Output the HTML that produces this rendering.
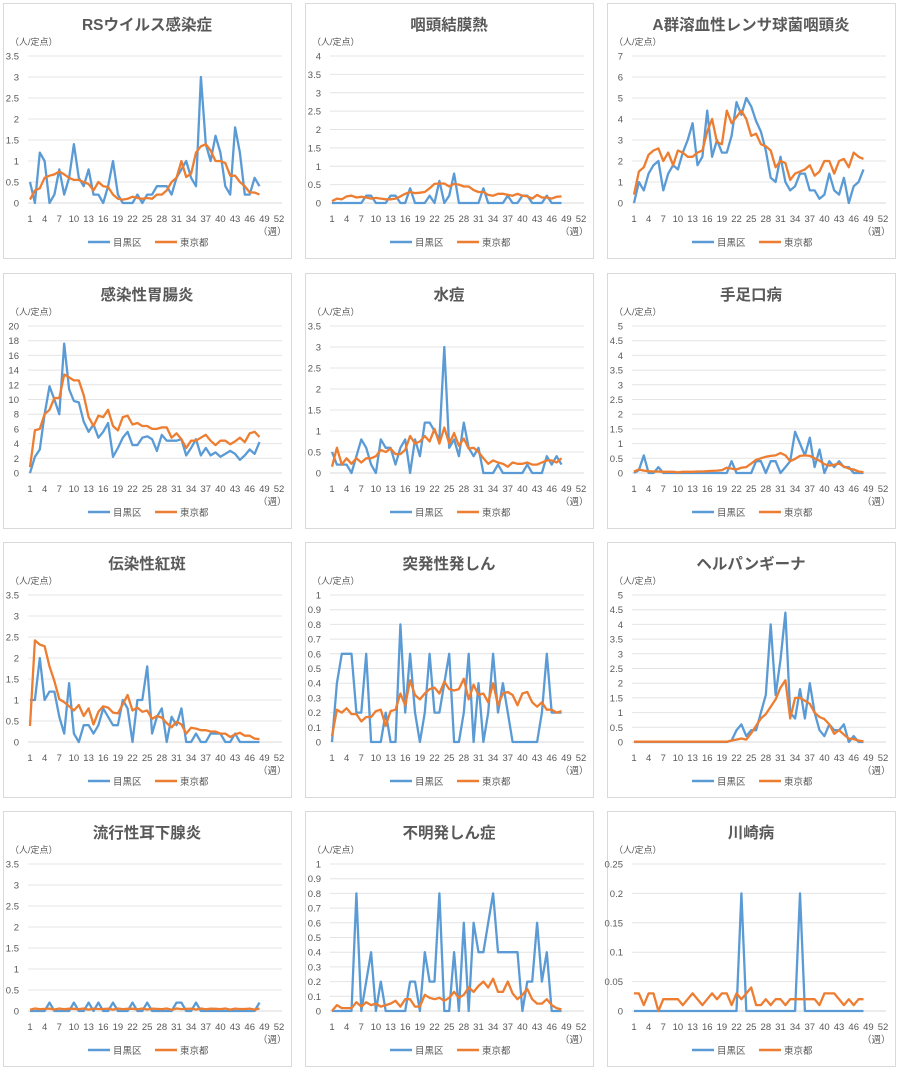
<!DOCTYPE html>
<html><head><meta charset="utf-8"><style>
html,body{margin:0;padding:0;background:#fff;}
svg{display:block;}
text{font-family:"Liberation Sans","Noto Sans CJK JP",sans-serif;}
</style></head><body>
<svg id="s" width="900" height="1070" xmlns="http://www.w3.org/2000/svg"></svg>
<script>
const Z=n=>Array(n).fill(0);
function sp(arr,map){const a=arr.slice();for(const k in map)a[k-1]=map[k];return a;}
const charts=[
{t:"RSウイルス感染症",max:3.5,step:0.5,
b:[0.5,0,1.2,1,0,0.2,0.8,0.2,0.6,1.4,0.6,0.4,0.8,0.2,0.2,0,0.4,1,0.2,0,0,0,0.2,0,0.2,0.2,0.4,0.4,0.4,0.2,0.6,0.8,1,0.6,0.4,3,1.4,1,1.6,1.2,0.4,0.2,1.8,1.2,0.2,0.2,0.6,0.4],
o:[0.08,0.3,0.35,0.6,0.65,0.68,0.75,0.68,0.6,0.55,0.55,0.5,0.45,0.3,0.5,0.4,0.38,0.2,0.1,0.08,0.1,0.15,0.12,0.1,0.12,0.1,0.2,0.2,0.3,0.5,0.6,1,0.62,0.7,1.2,1.35,1.4,1.25,1,1,0.95,0.65,0.65,0.5,0.4,0.25,0.25,0.2]},
{t:"咽頭結膜熱",max:4,step:0.5,
b:sp(Z(48),{8:0.2,9:0.2,13:0.2,14:0.2,17:0.4,21:0.2,23:0.6,25:0.2,26:0.8,32:0.4,37:0.2,40:0.2,41:0.2,45:0.2}),
o:[0.05,0.12,0.1,0.18,0.2,0.15,0.17,0.15,0.12,0.14,0.12,0.1,0.1,0.12,0.18,0.25,0.3,0.27,0.28,0.3,0.4,0.52,0.53,0.53,0.45,0.52,0.5,0.45,0.45,0.35,0.3,0.3,0.22,0.2,0.25,0.25,0.22,0.2,0.25,0.2,0.18,0.12,0.22,0.15,0.15,0.12,0.17,0.18]},
{t:"A群溶血性レンサ球菌咽頭炎",max:7,step:1,
b:[0,1,0.6,1.4,1.8,2,0.6,1.4,1.8,1.6,2.4,3,3.8,1.8,2.2,4.4,2.2,3,2.4,2.4,3.2,4.8,4.2,5,4.6,3.9,3.4,2.5,1.2,1,2.2,1,0.6,0.8,1.4,1.4,0.6,0.6,0.2,0.4,1.4,0.6,0.4,1.2,0,0.8,1,1.6],
o:[0.4,1.5,1.7,2.3,2.5,2.6,2,2.4,1.8,2.5,2.4,2.2,2.2,2.4,2.5,3.4,4,2.9,2.8,4.4,3.8,4.1,4.4,4,3.2,3.3,2.8,2.7,2.5,1.7,2,1.9,1.1,1.4,1.5,1.6,1.8,1.3,1.5,2,2,1.4,2,2.1,1.7,2.4,2.2,2.1]},
{t:"感染性胃腸炎",max:20,step:2,
b:[0,2.2,3.2,8,11.8,10,8,17.6,11.4,9.8,9.6,7,5.6,6.6,4.8,5.6,6.8,2.2,3.4,4.8,5.6,3.8,3.8,4.8,5,4.6,3,5.2,4.4,4.4,4.4,4.6,2.4,3.4,4.6,2.4,3.4,2.4,2.8,2.2,2.6,3,2.6,1.8,2.4,3.2,2.6,4.2],
o:[0.8,5.8,6,8,8.6,10.2,10.2,13.4,13,12.6,12.6,10.6,7.6,6.4,7.8,7.6,8.6,6.4,5.8,7.6,7.8,6.6,6.8,6.4,6.4,6,6,6.2,6.2,4.8,5.4,4.6,3.4,4.4,4.4,4.8,5.2,4.4,3.8,4.4,4.4,3.9,4.3,4.8,4.2,5.4,5.6,4.9]},
{t:"水痘",max:3.5,step:0.5,
b:[0.5,0.2,0.2,0.2,0,0.4,0.8,0.6,0.2,0,0.8,0.6,0.6,0.2,0.6,0.8,0,0.8,0.4,1.2,1.2,1,0.8,3,0.6,0.8,0.4,1.2,0.6,0.4,0.6,0,0,0,0.2,0,0,0,0,0,0.2,0,0,0,0.4,0.2,0.4,0.2],
o:[0.15,0.6,0.2,0.35,0.22,0.35,0.25,0.35,0.35,0.4,0.55,0.5,0.58,0.45,0.45,0.55,0.88,0.7,0.75,0.88,0.75,1.05,0.7,1.08,0.7,0.95,0.65,0.82,0.58,0.6,0.5,0.35,0.22,0.3,0.25,0.22,0.15,0.25,0.22,0.22,0.25,0.2,0.2,0.25,0.3,0.3,0.25,0.35]},
{t:"手足口病",max:5,step:0.5,
b:sp(Z(48),{2:0.1,3:0.6,6:0.2,21:0.4,26:0.4,27:0.4,29:0.4,30:0.4,32:0.2,33:0.4,34:1.4,35:1,36:0.6,37:1.2,38:0.2,39:0.8,41:0.4,42:0.2,43:0.4,44:0.2,45:0.2}),
o:[0.05,0.12,0.08,0.06,0.05,0.05,0.04,0.04,0.04,0.02,0.04,0.04,0.04,0.05,0.05,0.06,0.07,0.08,0.1,0.18,0.15,0.12,0.18,0.2,0.32,0.45,0.5,0.55,0.58,0.6,0.68,0.6,0.4,0.48,0.58,0.6,0.58,0.5,0.42,0.3,0.25,0.28,0.32,0.22,0.15,0.12,0.05,0.03]},
{t:"伝染性紅斑",max:3.5,step:0.5,
b:[1,1,2,1,1.2,1.2,0.6,0.2,1.4,0.2,0,0.4,0.4,0.2,0.4,0.8,0.6,0.4,0.4,1,0.8,0,1,1,1.8,0.2,0.6,0.8,0,0.6,0.4,0.8,0,0,0.2,0,0,0.2,0.2,0.2,0,0,0.2,0,0,0,0,0],
o:[0.38,2.42,2.32,2.28,1.8,1.45,1.02,0.95,0.85,0.75,0.88,0.62,0.8,0.42,0.72,0.85,0.82,0.7,0.68,0.9,1.12,0.75,0.82,0.72,0.75,0.55,0.62,0.58,0.45,0.35,0.48,0.42,0.2,0.34,0.32,0.28,0.28,0.25,0.25,0.2,0.2,0.12,0.18,0.22,0.15,0.15,0.08,0.07]},
{t:"突発性発しん",max:1,step:0.1,
b:[0,0.4,0.6,0.6,0.6,0.2,0.2,0.6,0,0,0,0.2,0,0,0.8,0.2,0.6,0.2,0,0.2,0.6,0.2,0.2,0.4,0.6,0,0,0.2,0.6,0,0.4,0,0.2,0.6,0.2,0.4,0.2,0,0,0,0,0,0,0.2,0.6,0.2,0.2,0.2],
o:[0.04,0.22,0.2,0.23,0.19,0.19,0.14,0.17,0.17,0.21,0.22,0.11,0.21,0.22,0.33,0.25,0.42,0.32,0.29,0.33,0.36,0.37,0.33,0.41,0.36,0.35,0.36,0.43,0.29,0.39,0.32,0.33,0.27,0.4,0.25,0.33,0.34,0.32,0.25,0.33,0.34,0.27,0.24,0.27,0.22,0.22,0.2,0.21]},
{t:"ヘルパンギーナ",max:5,step:0.5,
b:sp(Z(48),{21:0.05,22:0.4,23:0.6,24:0.2,25:0.4,26:0.4,27:1.0,28:1.6,29:4.0,30:1.6,31:2.8,32:4.4,33:1.0,34:0.8,35:1.8,36:0.8,37:2.0,38:1.0,39:0.4,40:0.2,41:0.6,42:0.4,43:0.4,44:0.6,45:0,46:0.2}),
o:sp(Z(48).map((v,i)=>i<20?0.01:0),{21:0.05,22:0.08,23:0.12,24:0.08,25:0.3,26:0.55,27:0.8,28:0.95,29:1.2,30:1.45,31:1.85,32:2.1,33:0.8,34:1.5,35:1.5,36:1.4,37:1.3,38:1.0,39:0.85,40:0.78,41:0.6,42:0.28,43:0.4,44:0.25,45:0.12,46:0.1,47:0.05,48:0.02})},
{t:"流行性耳下腺炎",max:3.5,step:0.5,
b:sp(Z(48),{5:0.2,10:0.2,13:0.2,15:0.2,18:0.2,22:0.2,25:0.2,31:0.2,32:0.2,35:0.2,48:0.2}),
o:Z(48).map((v,i)=>0.03+0.03*Math.abs(Math.sin(i*1.3)))},
{t:"不明発しん症",max:1,step:0.1,
b:[0,0,0,0,0,0.8,0,0.2,0.4,0,0.2,0,0,0,0,0,0.2,0.2,0,0.4,0.2,0.2,0.8,0,0,0.4,0,0.6,0,0.6,0.4,0.4,0.6,0.8,0.4,0.4,0.4,0.4,0.4,0,0.2,0.2,0.6,0.2,0.4,0,0,0],
o:[0,0.04,0.02,0.02,0.02,0.06,0.03,0.06,0.04,0.05,0.03,0.04,0.05,0.07,0.03,0.08,0.08,0.03,0.03,0.11,0.09,0.08,0.09,0.07,0.09,0.13,0.09,0.11,0.16,0.13,0.17,0.2,0.16,0.22,0.13,0.13,0.2,0.12,0.08,0.11,0.15,0.08,0.05,0.05,0.08,0.04,0.02,0.01]},
{t:"川崎病",max:0.25,step:0.05,
b:sp(Z(48),{23:0.2,35:0.2}),
o:[0.03,0.03,0.01,0.03,0.03,0,0.02,0.02,0.02,0.02,0.01,0.02,0.03,0.02,0.01,0.02,0.03,0.02,0.03,0.03,0.01,0.03,0.02,0.03,0.04,0.01,0.01,0.02,0.01,0.02,0.02,0.01,0.02,0.02,0.02,0.02,0.02,0.02,0.01,0.03,0.03,0.03,0.02,0.01,0.02,0.01,0.02,0.02]}
];
const cols=[0,302,604],rows=[0,270,539,808];
let h='';
const fmt=v=>{let s=(+v.toFixed(3)).toString();return s;};
charts.forEach((c,i)=>{
 const ox=cols[i%3],oy=rows[Math.floor(i/3)];
 h+=`<rect x="${ox+3.5}" y="${oy+3.5}" width="288" height="255" fill="#fff" stroke="#d9d9d9"/>`;
 h+=`<text x="${ox+147}" y="${oy+30}" text-anchor="middle" font-size="15.5" font-weight="bold" fill="#595959">${c.t}</text>`;
 h+=`<text x="${ox+10}" y="${oy+45}" font-size="9" fill="#595959">（人/定点）</text>`;
 const top=oy+56,bot=oy+203,n=Math.round(c.max/c.step);
 for(let k=0;k<=n;k++){const y=bot-(bot-top)*k/n;
  h+=`<line x1="${ox+28}" x2="${ox+282}" y1="${y}" y2="${y}" stroke="${k==0?'#d9d9d9':'#e4e4e4'}" stroke-width="1"/>`;
  h+=`<text x="${ox+19}" y="${y+3.5}" text-anchor="end" font-size="9.5" fill="#595959">${fmt(c.step*k)}</text>`;}
 const X=w=>ox+30+(w-1)*(249/51);
 for(let w=1;w<=52;w+=3)h+=`<text x="${X(w)}" y="${oy+222}" text-anchor="middle" font-size="9.5" fill="#595959">${w}</text>`;
 h+=`<text x="${ox+258}" y="${oy+235}" font-size="9.5" fill="#595959">（週）</text>`;
 const Y=v=>bot-(bot-top)*v/c.max;
 const pl=(a,col)=>`<polyline fill="none" stroke="${col}" stroke-width="2.3" stroke-linejoin="round" points="${a.map((v,j)=>X(j+1).toFixed(1)+','+Y(v).toFixed(1)).join(' ')}"/>`;
 h+=pl(c.b,'#5b9bd5')+pl(c.o,'#ed7d31');
 h+=`<line x1="${ox+88}" x2="${ox+110}" y1="${oy+242}" y2="${oy+242}" stroke="#5b9bd5" stroke-width="2.5"/>`;
 h+=`<text x="${ox+113}" y="${oy+246}" font-size="9.5" fill="#595959">目黒区</text>`;
 h+=`<line x1="${ox+155}" x2="${ox+177}" y1="${oy+242}" y2="${oy+242}" stroke="#ed7d31" stroke-width="2.5"/>`;
 h+=`<text x="${ox+180}" y="${oy+246}" font-size="9.5" fill="#595959">東京都</text>`;
});
document.getElementById('s').innerHTML=h;
</script>
</body></html>
